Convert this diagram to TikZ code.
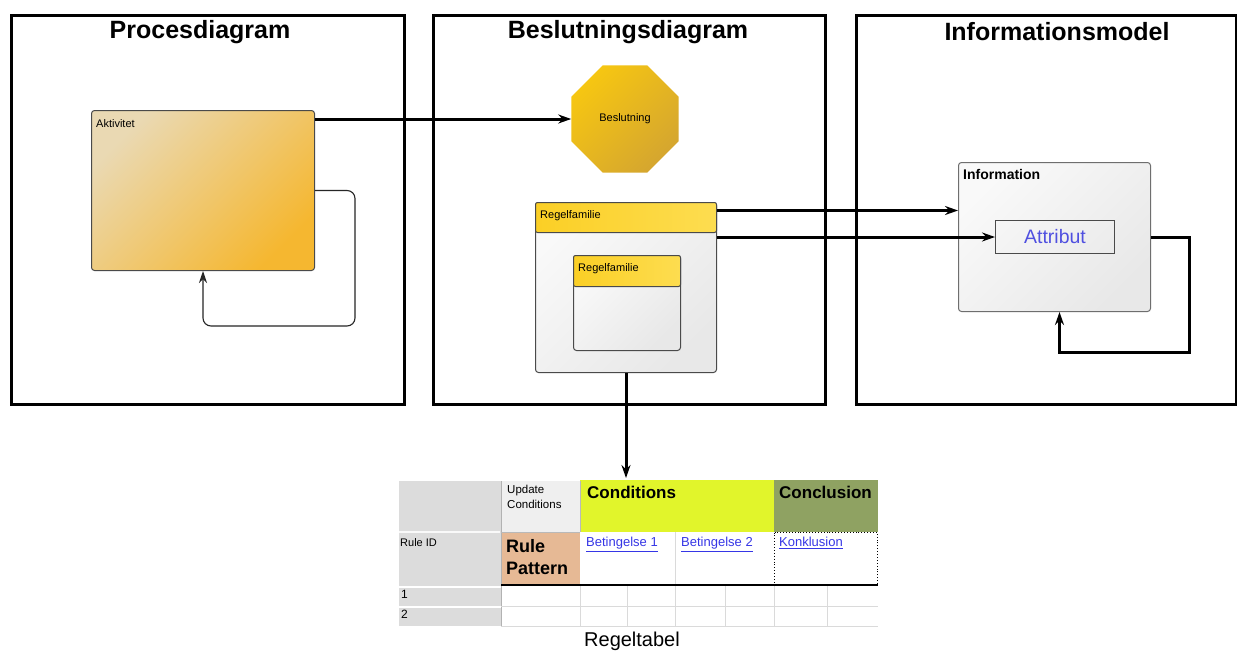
\documentclass[tikz,border=0pt]{standalone}
\usepackage{fontspec}
\setmainfont{Liberation Sans}
\usetikzlibrary{shapes.geometric,arrows.meta,calc}

\definecolor{aktlight}{HTML}{EAD9B3}
\definecolor{aktdark}{HTML}{F5B730}
\definecolor{declight}{HTML}{F6C612}
\definecolor{decdark}{HTML}{D5A62F}
\definecolor{hdrlight}{HTML}{FBCF25}
\definecolor{hdrdark}{HTML}{FDDD50}
\definecolor{bodylight}{HTML}{F9F9F9}
\definecolor{bodydark}{HTML}{E8E8E8}
\definecolor{edge}{HTML}{4A4A4A}
\definecolor{linkblue}{HTML}{3636E6}
\definecolor{attrblue}{HTML}{5050E0}
\definecolor{tgray}{HTML}{DCDCDC}
\definecolor{tlight}{HTML}{EFEFEF}
\definecolor{tlime}{HTML}{E1F52B}
\definecolor{tolive}{HTML}{8FA262}
\definecolor{tpeach}{HTML}{E6B995}
\definecolor{tgrid}{HTML}{DADADA}

\tikzset{
  frame/.style={draw=black, line width=3pt, anchor=north west, inner sep=0pt},
  title/.style={font=\fontsize{25}{29}\selectfont\bfseries},
  small/.style={font=\fontsize{11}{13}\selectfont, inner sep=0pt},
  aktbox/.style={draw=edge, line width=1pt, rounded corners=3pt, anchor=north west,
    inner sep=0pt, top color=aktlight, bottom color=aktdark, shading angle=45},
  greybox/.style={draw=edge, line width=1pt, rounded corners=3pt, anchor=north west,
    inner sep=0pt, top color=bodylight, bottom color=bodydark, shading angle=45},
  hdrbox/.style={draw=edge, line width=1pt, rounded corners=2pt, anchor=north west,
    inner sep=0pt, left color=hdrlight, right color=hdrdark},
  heavy/.style={line width=3pt, -{Stealth[length=13pt,width=9pt]}},
  light/.style={line width=1.1pt, draw=black!85, -{Stealth[length=12pt,width=8pt]}},
  link/.style={font=\fontsize{13}{15}\selectfont, text=linkblue, inner sep=0pt, anchor=north west},
  gridline/.style={draw=tgrid, line width=1pt}
}

\begin{document}
\begin{tikzpicture}[x=1pt,y=-1pt]
\useasboundingbox (0,0) rectangle (1237,651);
\fill[white] (0,0) rectangle (1237,651);

% three panels with their headings
\node[frame, minimum width=393pt, minimum height=389pt] (f1) at (10,14) {};
\node[frame, minimum width=392pt, minimum height=389pt] (f2) at (432,14) {};
\node[frame, minimum width=380pt, minimum height=389pt] (f3) at (855,14) {};
\node[title] (t1) at (200,32) {Procesdiagram};
\node[title] (t2) at (628,32) {Beslutningsdiagram};
\node[title] (t3) at (1057,32) {Informationsmodel};

% process panel
\node[aktbox, minimum width=223pt, minimum height=160pt] (akt) at (91,110) {};
\node[small, anchor=north west] (aktlabel) at ([xshift=5pt,yshift=-9pt]akt.north west) {Aktivitet};
\coordinate (aktloop) at (355,326);
\draw[light, rounded corners=8pt] (akt.east) -| (aktloop) -| (akt.south);

% decision panel
\node[regular polygon, regular polygon sides=8, minimum size=116pt, inner sep=0pt,
  top color=declight, bottom color=decdark, shading angle=45,
  font=\fontsize{11}{13}\selectfont] (dec) at (625,119) {Beslutning};
\draw[heavy] (akt.east |- dec.west) -- (dec.west);

\node[greybox, minimum width=181pt, minimum height=170pt] (rf) at (535,202) {};
\node[hdrbox, minimum width=181pt, minimum height=30pt] (rfh) at (rf.north west) {};
\node[small, anchor=west] (rflabel) at ([xshift=5pt,yshift=2pt]rfh.west) {Regelfamilie};
\node[greybox, minimum width=107pt, minimum height=95pt] (rfi) at (573,255) {};
\node[hdrbox, minimum width=107pt, minimum height=31pt] (rfih) at (rfi.north west) {};
\node[small, anchor=west] (rfilabel) at ([xshift=5pt,yshift=2pt]rfih.west) {Regelfamilie};

% information panel
\node[greybox, draw=edge!80, minimum width=192pt, minimum height=149pt] (info) at (958,162) {};
\node[inner sep=0pt, anchor=north west, font=\fontsize{14}{16}\selectfont\bfseries]
  (infolabel) at ([xshift=5pt,yshift=-7pt]info.north west) {Information};
\node[draw=edge, line width=1pt, anchor=north west, inner sep=0pt, minimum width=119pt,
  minimum height=33pt, text=attrblue, font=\fontsize{19.5}{22}\selectfont] (attr) at (995,220) {Attribut};

\coordinate (a1) at ([yshift=7pt]rfh.east);
\draw[heavy] (a1) -- (a1 -| info.west);
\draw[heavy] (rf.east |- attr.west) -- (attr.west);
\coordinate (infoloop) at (1189,352);
\draw[heavy] (info.east) -| (infoloop) -| ([xshift=5pt]info.south);

% rule table
\fill[tgray] (399,481) rectangle (501,626);
\fill[tlight] (501,481) rectangle (580,532);
\fill[tlime] (580,480) rectangle (774,532);
\fill[tolive] (774,480) rectangle (878,532);
\fill[tpeach] (501,532) rectangle (580,585);
\draw[white!95!gray, line width=1.5pt] (399,532) -- (500,532);
\draw[white, line width=1.5pt] (399,587) -- (501,587) (399,607) -- (501,607);
\draw[gray!60, line width=1pt] (501,481) -- (501,626);
\draw[gray!55, line width=1pt] (580,481) -- (580,532) (501,532) -- (580,532);
\draw[gridline] (675,532) -- (675,585);
\foreach \cx in {580,627,675,725,774,827}
  \draw[gridline] (\cx,586) -- (\cx,626);
\draw[gridline] (501,606) -- (878,606) (501,626) -- (878,626);
\draw[black, line width=0.9pt, dotted] (774.5,532.5) rectangle (877.5,585);
\draw[black, line width=2pt] (501,585) -- (878,585);
\coordinate (tabletop) at (628,478);

\node[small, anchor=north west, align=left, font=\fontsize{11.5}{15}\selectfont] (upd) at (507,485) {Update\\Conditions};
\node[inner sep=0pt, anchor=north west, font=\fontsize{17}{19}\selectfont\bfseries] (cond) at (587,486) {Conditions};
\node[inner sep=0pt, anchor=north west, font=\fontsize{17}{19}\selectfont\bfseries] (concl) at (779,486) {Conclusion};
\node[small, anchor=north west] (ruleid) at (400,538) {Rule ID};
\node[inner sep=0pt, anchor=north west, align=left, font=\fontsize{18}{22}\selectfont\bfseries] (pattern) at (506,539) {Rule\\Pattern};
\node[link] (b1) at (586,537) {\underline{Betingelse 1}};
\node[link] (b2) at (681,537) {\underline{Betingelse 2}};
\node[link] (kon) at (779,537) {\underline{Konklusion}};
\node[small, anchor=north west, font=\fontsize{12}{14}\selectfont] (r1) at (401,590) {1};
\node[small, anchor=north west, font=\fontsize{12}{14}\selectfont] (r2) at (401,610) {2};
\node[inner sep=0pt, font=\fontsize{20}{24}\selectfont] (cap) at (632,641) {Regeltabel};

\draw[heavy] (rf.south) -- (rf.south |- tabletop);
\end{tikzpicture}
\end{document}
